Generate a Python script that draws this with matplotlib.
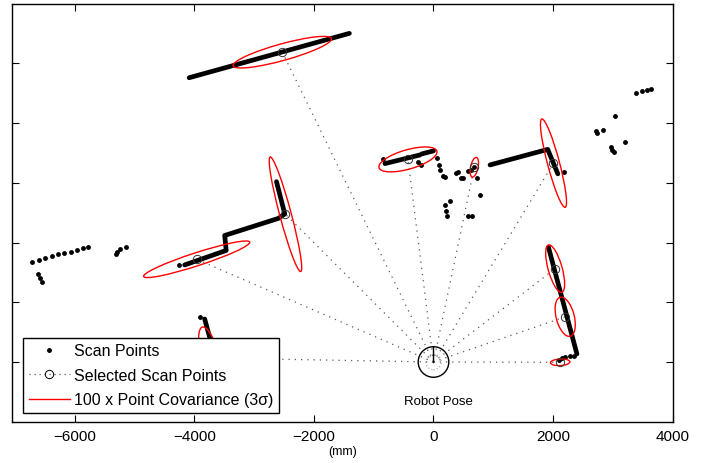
import matplotlib.pyplot as plt
from matplotlib.patches import Ellipse, Circle
from matplotlib.lines import Line2D

plt.rcParams['font.family'] = ['Liberation Sans', 'DejaVu Sans']

# isolated scan points (mm)
scan_x = [-6714, -6603, -6491, -6385, -6273, -6173, -6067, -5967, -5866, -5771,
          -6620, -6580, -6553, -5318, -5290, -5251, -5139,
          -4258, -3899,
          -851, -255, -214, 64, 87, 109, 154, 193, 377, 415, 461, 499,
          583, 628, 683, 724, 779, 193, 276, 204, 231, 583, 650,
          2191, 2722, 2734, 2827, 3040, 2968, 2985, 3012, 3208,
          3392, 3492, 3571, 3643,
          2342, 2275, 2203, 2147, 2107]
scan_y = [1670, 1704, 1737, 1771, 1804, 1826, 1848, 1876, 1905, 1931,
          1474, 1402, 1335, 1809, 1848, 1893, 1921,
          1625, 759,
          3405, 3345, 3305, 3412, 3305, 3221, 3111, 3104, 3161, 3178, 3077, 3082,
          3204, 3221, 3271, 3077, 2792, 2635, 2692, 2524, 2441, 2451, 2451,
          3178, 3874, 3831, 3886, 4116, 3596, 3556, 3523, 3690,
          4501, 4539, 4561, 4578,
          106, 95, 79, 62, 39]

# dense runs of scan points (walls), traced as polylines (mm)
wall_top_x = [-4087, -1407]
wall_top_y = [4760, 5503]
wall_left_x = [-2626, -2487, -2596, -3492, -3467, -4162]
wall_left_y = [3020, 2479, 2404, 2119, 1868, 1625]
wall_low_x = [-3827, -3740, -3700]
wall_low_y = [720, 400, 150]
wall_mid1_x = [-812, -226]
wall_mid1_y = [3322, 3467]
wall_mid2_x = [-198, 0]
wall_mid2_y = [3484, 3535]
wall_right_x = [946, 1910, 2080]
wall_right_y = [3300, 3560, 3150]
wall_side_x = [1923, 2399]
wall_side_y = [1921, 134]

# selected scan points and 100x covariance ellipses (semi axes in mm, angle in deg)
sel_x = [-2528, -2476, -3961, -3727, -427, 683, 2007, 2035, 2203, 2119]
sel_y = [5188, 2474, 1720, 67, 3392, 3261, 3330, 1563, 757, -5]
cov_a = [854, 992, 933, 536, 503, 168, 765, 412, 337, 162]
cov_b = [139, 97, 109, 150, 162, 62, 100, 117, 151, 55]
cov_ang = [15.5, 104.9, 18, 105, 16, 78, 104.8, 105.7, 104.4, 3]

robot_r = 256

fig = plt.figure(figsize=(7.13, 4.64), dpi=100)
ax = fig.add_axes([0.0168, 0.089, 0.9266, 0.9009])

# rays from the robot to the selected points
for x, y in zip(sel_x, sel_y):
    ax.plot([0, x], [0, y], color='0.35', lw=0.9, ls=(0, (1, 4)), zorder=1)

walls = [(wall_top_x, wall_top_y), (wall_left_x, wall_left_y), (wall_low_x, wall_low_y),
         (wall_mid1_x, wall_mid1_y), (wall_mid2_x, wall_mid2_y),
         (wall_right_x, wall_right_y), (wall_side_x, wall_side_y)]
for wx, wy in walls:
    ax.plot(wx, wy, color='k', lw=3.4, solid_capstyle='round', solid_joinstyle='round', zorder=2)
ax.plot(scan_x, scan_y, 'o', color='k', ms=3.5, mew=0, zorder=2)

for x, y, a, b, ang in zip(sel_x, sel_y, cov_a, cov_b, cov_ang):
    ax.add_patch(Ellipse((x, y), 2 * a, 2 * b, angle=ang, fill=False, ec='red', lw=1, zorder=3))
ax.plot(sel_x, sel_y, 'o', mfc='none', mec='0.2', ms=6, mew=0.7, zorder=4)

# robot
ax.add_patch(Circle((0, 0), robot_r, fill=False, ec='k', lw=1, zorder=4))
ax.add_patch(Circle((0, 0), 130, fill=False, ec='0.6', lw=0.8, ls=(0, (1, 2)), zorder=4))
ax.plot([0, 0], [0, robot_r], color='k', lw=1, zorder=4)
ax.text(80, -650, 'Robot Pose', ha='center', va='center', fontsize=9.5)

ax.set_xlim(-7050, 4000)
ax.set_ylim(-1000, 6000)
ax.set_xticks([-6000, -4000, -2000, 0, 2000, 4000])
ax.set_yticks([0, 1000, 2000, 3000, 4000, 5000])
ax.set_yticklabels([])
ax.tick_params(direction='in', length=5, width=0.8, top=True, right=True,
               labelsize=11, pad=5, colors='k')
for s in ax.spines.values():
    s.set_linewidth(1)
ax.set_xlabel('(mm)', fontsize=9, labelpad=2)

handles = [
    Line2D([], [], ls='none', marker='.', color='k', ms=5),
    Line2D([], [], color='0.35', lw=0.9, ls=(0, (1, 3)), marker='o', mfc='none', mec='k', ms=6, mew=0.7),
    Line2D([], [], color='red', lw=1),
]
labels = ['Scan Points', 'Selected Scan Points', '100 x Point Covariance (3σ)']
leg = ax.legend(handles, labels, loc='lower left', bbox_to_anchor=(0.017, 0.021),
                borderaxespad=0, fontsize=11.5, fancybox=False, framealpha=1,
                edgecolor='k', handlelength=2.56, handletextpad=0.25,
                labelspacing=0.6, borderpad=0.35)
leg.get_frame().set_linewidth(1)
leg.set_zorder(10)

fig.savefig('out.png', dpi=100)
